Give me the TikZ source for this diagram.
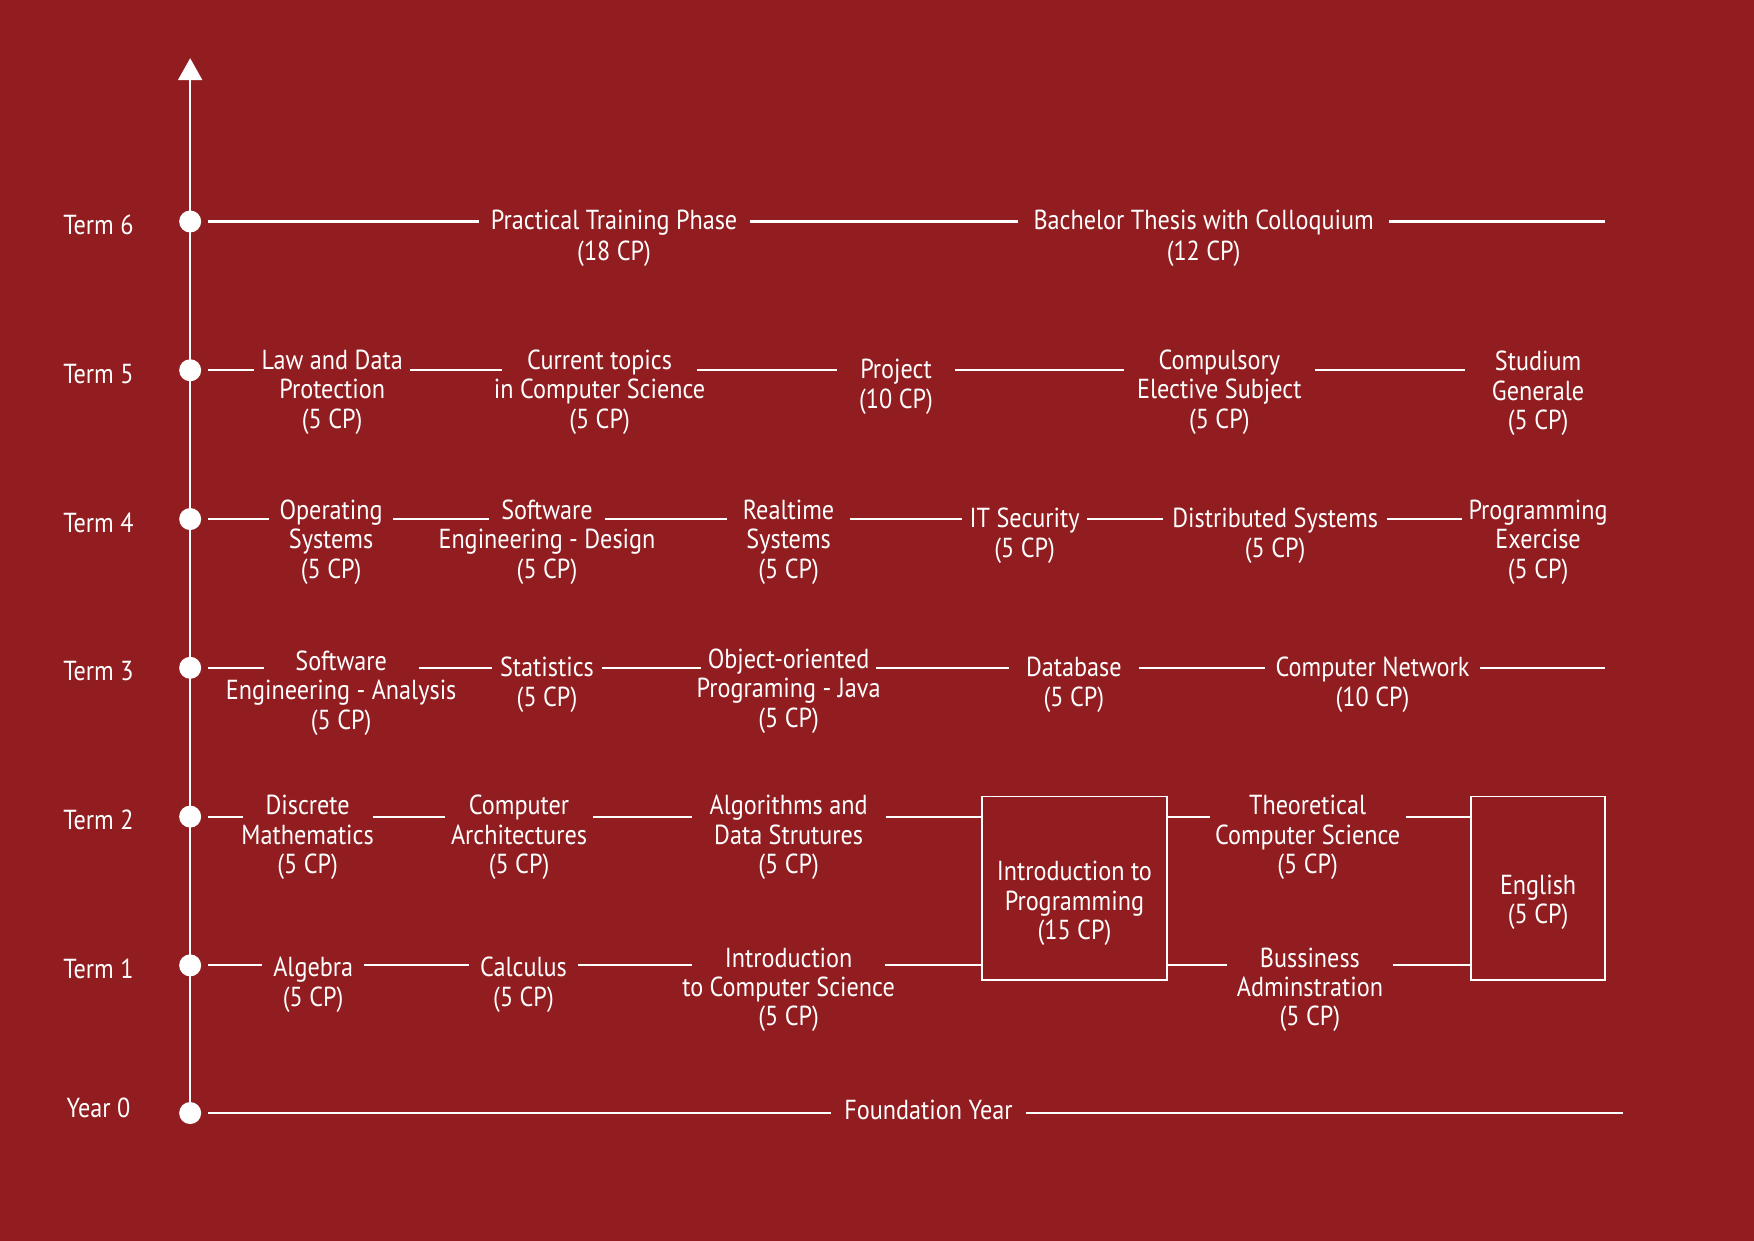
\documentclass[tikz,border=0pt]{standalone}
\usepackage{fontspec}
\setmainfont{PT Sans}[FakeStretch=0.88]
\usepackage{tikz}
\usetikzlibrary{positioning,calc,arrows.meta}
\definecolor{uniRed}{RGB}{146,29,32}

\tikzset{
  course/.style={text=white, inner xsep=5pt, inner ysep=0pt, text height=10.5pt, text depth=4.5pt,
    yshift=-0.045cm, font=\fontsize{14}{15}\selectfont},
  sub/.style={text=white, align=center, inner sep=0pt, label distance=0pt,
    font=\fontsize{14}{15}\selectfont, execute at begin node=\strut},
  termlabel/.style={text=white, font=\fontsize{14}{15}\selectfont},
  termdot/.style={circle, fill=white, minimum size=11.2pt, inner sep=0pt, outer sep=3.5pt},
  link/.style={draw=white, line width=1.1pt},
  block/.style={draw=white, line width=0.8pt, minimum height=3.28cm, inner sep=0pt},
}

\begin{document}
\begin{tikzpicture}[x=0.02cm, y=-0.02cm, >={Triangle[width=12.2pt,length=11.2pt]}]
           \fill[uniRed] (0,0) rectangle (1568,1109);
           % time axis
           \node[termdot] (y0) at (170,995) {};
           \node[termdot] (t1) at (170,863) {};
           \node[termdot] (t2) at (170,730) {};
           \node[termdot] (t3) at (170,597) {};
           \node[termdot] (t4) at (170,464) {};
           \node[termdot] (t5) at (170,331) {};
           \node[termdot] (t6) at (170,198) {};
           \coordinate (top) at (170,52);
           \draw[link, line width=1.3pt, ->] (y0.center) -- (top);
           \node[termlabel] (l0) at (88,990) {Year 0};
           \node[termlabel] (l1) at (88,866) {Term 1};
           \node[termlabel] (l2) at (88,733) {Term 2};
           \node[termlabel] (l3) at (88,600) {Term 3};
           \node[termlabel] (l4) at (88,467) {Term 4};
           \node[termlabel] (l5) at (88,334) {Term 5};
           \node[termlabel] (l6) at (88,201) {Term 6};

           % term 6
           \node[course, inner xsep=6pt, label={[sub]below:(18 CP)}] (ptp) at (549,198) {Practical Training Phase};
           \node[course, inner xsep=7.5pt, label={[sub]below:(12 CP)}] (bth) at (1076,198) {Bachelor Thesis with Colloquium};
           \coordinate (e6) at (1435,198);
           \path[link] (t6) edge (ptp.west |- t6) (ptp.east |- t6) edge (bth.west |- t6)
           (bth.east |- t6) edge (e6);

           % term 5
           \node[course, inner xsep=3.5pt, label={[sub]below:{Protection\\(5 CP)}}] (law) at (297,323) {Law and Data};
           \node[course, inner xsep=12.5pt, label={[sub]below:{in Computer Science\\(5 CP)}}] (cur) at (536,323) {Current topics};
           \node[course, inner xsep=11.5pt, label={[sub]below:(10 CP)}] (proj) at (801,331) {Project};
           \node[course, inner xsep=17.5pt, label={[sub]below:{Elective Subject\\(5 CP)}}] (elec) at (1090,323) {Compulsory};
           \node[course, inner xsep=15pt, label={[sub]below:{Generale\\(5 CP)}}] (stud) at (1375,324) {Studium};
           \path[link] (t5) edge (law.west |- t5) (law.east |- t5) edge (cur.west |- t5)
           (cur.east |- t5) edge (proj.west |- t5) (proj.east |- t5) edge (elec.west |- t5)
           (elec.east |- t5) edge (stud.west |- t5);

           % term 4
           \node[course, label={[sub]below:{Systems\\(5 CP)}}] (os) at (296,457) {Operating};
           \node[course, inner xsep=6pt, label={[sub]below:{Engineering - Design\\(5 CP)}}] (sed) at (489,457) {Software};
           \node[course, inner xsep=8pt, label={[sub]below:{Systems\\(5 CP)}}] (rts) at (705,457) {Realtime};
           \node[course, inner xsep=3.5pt, label={[sub]below:(5 CP)}] (its) at (916,464) {IT Security};
           \node[course, inner xsep=4.5pt, label={[sub]below:(5 CP)}] (dis) at (1140,464) {Distributed Systems};
           \node[course, inner xsep=3pt, label={[sub]below:{Exercise\\(5 CP)}}] (pex) at (1375,457) {Programming};
           \path[link] (t4) edge (os.west |- t4) (os.east |- t4) edge (sed.west |- t4)
           (sed.east |- t4) edge (rts.west |- t4) (rts.east |- t4) edge (its.west |- t4)
           (its.east |- t4) edge (dis.west |- t4) (dis.east |- t4) edge (pex.west |- t4);

           % term 3
           \node[course, inner xsep=16pt, label={[sub]below:{Engineering - Analysis\\(5 CP)}}] (sea) at (305,592) {Software};
           \node[course, inner xsep=4pt, label={[sub]below:(5 CP)}] (sta) at (489,597) {Statistics};
           \node[course, inner xsep=3pt, label={[sub]below:{Programing - Java\\(5 CP)}}] (oop) at (705,590) {Object-oriented};
           \node[course, inner xsep=8.5pt, label={[sub]below:(5 CP)}] (dbs) at (960,597) {Database};
           \node[course, label={[sub]below:(10 CP)}] (net) at (1227,597) {Computer Network};
           \coordinate (e3) at (1435,597);
           \path[link] (t3) edge (sea.west |- t3) (sea.east |- t3) edge (sta.west |- t3)
           (sta.east |- t3) edge (oop.west |- t3) (oop.east |- t3) edge (dbs.west |- t3)
           (dbs.east |- t3) edge (net.west |- t3) (net.east |- t3) edge (e3);

           % terms 2 and 1
           \node[block, minimum width=3.3cm,
             label={[sub, yshift=-0.30cm]center:{Introduction to\\Programming\\(15 CP)}}] (prog) at (960.5,794) {};
           \node[block, minimum width=2.4cm,
             label={[sub, yshift=-0.28cm]center:{English\\(5 CP)}}] (eng) at (1375,794) {};
           \node[course, inner xsep=11.5pt, label={[sub]below:{Mathematics\\(5 CP)}}] (dma) at (275,721) {Discrete};
           \node[course, inner xsep=12pt, label={[sub]below:{Architectures\\(5 CP)}}] (car) at (464,721) {Computer};
           \node[course, inner xsep=9pt, label={[sub]below:{Data Strutures\\(5 CP)}}] (ads) at (705,721) {Algorithms and};
           \node[course, inner xsep=20pt, label={[sub]below:{Computer Science\\(5 CP)}}] (tcs) at (1169,721) {Theoretical};
           \path[link] (t2) edge (dma.west |- t2) (dma.east |- t2) edge (car.west |- t2)
           (car.east |- t2) edge (ads.west |- t2) (ads.east |- t2) edge (prog.west |- t2)
           (prog.east |- t2) edge (tcs.west |- t2) (tcs.east |- t2) edge (eng.west |- t2);
           \node[course, inner xsep=5.5pt, label={[sub]below:(5 CP)}] (alg) at (280,865) {Algebra};
           \node[course, inner xsep=5.5pt, label={[sub]below:(5 CP)}] (cal) at (468,865) {Calculus};
           \node[course, inner xsep=16.5pt, label={[sub]below:{to Computer Science\\(5 CP)}}] (ics) at (705,857) {Introduction};
           \node[course, inner xsep=16.5pt, label={[sub]below:{Adminstration\\(5 CP)}}] (bus) at (1171,857) {Bussiness};
           \path[link] (t1) edge (alg.west |- t1) (alg.east |- t1) edge (cal.west |- t1)
           (cal.east |- t1) edge (ics.west |- t1) (ics.east |- t1) edge (prog.west |- t1)
           (prog.east |- t1) edge (bus.west |- t1) (bus.east |- t1) edge (eng.west |- t1);

           % year 0
           \node[course, inner xsep=6.5pt] (fy) at (830,993) {Foundation Year};
           \coordinate (e0) at (1451,995);
           \path[link] (y0) edge (fy.west |- y0) (fy.east |- y0) edge (e0);
        \end{tikzpicture}
\end{document}
